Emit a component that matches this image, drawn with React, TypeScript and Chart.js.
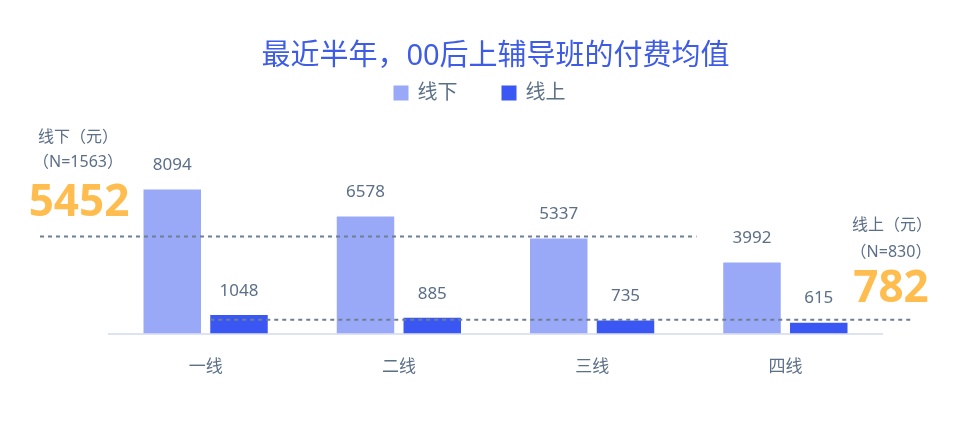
import { useEffect, useRef } from 'react';
import Chart from 'chart.js/auto';

// 城市线级 & 两组均值数据
const categories = ['一线', '二线', '三线', '四线'];
const seriesNames = ['线下', '线上'];
const offlineValues = [8094, 6578, 5337, 3992];
const onlineValues = [1048, 885, 735, 615];
const offlineAvg = 5452;
const offlineN = 1563;
const onlineAvg = 782;
const onlineN = 830;

const TEXT = '#5b6f88';
const LIGHT = '#9aa9f7';
const DARK = '#3a57f3';
const ORANGE = '#ffbd4f';
const DASH = '#6c7f95';
const FONT = '"Noto Sans", "Noto Sans CJK SC", sans-serif';

export default function App() {
  const canvasRef = useRef<HTMLCanvasElement>(null);
  const chartRef = useRef<Chart | null>(null);

  useEffect(() => {
    const ctx = canvasRef.current?.getContext('2d');
    if (!ctx) return;

    // legend drawn by hand so spacing matches the design
    const legendPlugin = {
      id: 'customLegend',
      afterDraw(chart: any) {
        const c = chart.ctx;
        c.save();
        c.font = `20px ${FONT}`;
        c.textBaseline = 'middle';
        const colors = [LIGHT, DARK];
        const box = 15, gap = 9, spacing = 44;
        const widths = seriesNames.map((s) => box + gap + c.measureText(s).width);
        const total = widths[0] + widths[1] + spacing;
        let x = chart.width / 2 - total / 2;
        const y = 93;
        seriesNames.forEach((s, i) => {
          c.fillStyle = colors[i];
          c.fillRect(x, y - box / 2, box, box);
          c.fillStyle = TEXT;
          c.textAlign = 'left';
          c.fillText(s, x + box + gap, y);
          x += widths[i] + spacing;
        });
        c.restore();
      },
    };

    // value labels above bars
    const valueLabels = {
      id: 'valueLabels',
      afterDatasetsDraw(chart: any) {
        const c = chart.ctx;
        c.save();
        c.font = `17px ${FONT}`;
        c.fillStyle = TEXT;
        c.textAlign = 'center';
        c.textBaseline = 'middle';
        chart.data.datasets.forEach((ds: any, di: number) => {
          chart.getDatasetMeta(di).data.forEach((el: any, i: number) => {
            c.fillText(String(ds.data[i]), el.x, el.y - 24);
          });
        });
        c.restore();
      },
    };

    // average lines + side notes
    const avgPlugin = {
      id: 'avgLines',
      afterDatasetsDraw(chart: any) {
        const c = chart.ctx;
        const xs = chart.scales.x;
        const ys = chart.scales.y;
        const area = chart.chartArea;
        const catW = xs.getPixelForValue(1) - xs.getPixelForValue(0);
        const onlineBar = chart.getDatasetMeta(1).data[0];

        c.save();
        c.strokeStyle = DASH;
        c.lineWidth = 2;
        c.setLineDash([4, 4]);
        const yOff = ys.getPixelForValue(offlineAvg);
        c.beginPath();
        c.moveTo(40, yOff);
        c.lineTo(xs.getPixelForValue(2) + catW * 0.54, yOff);
        c.stroke();
        const yOn = ys.getPixelForValue(onlineAvg);
        c.beginPath();
        c.moveTo(onlineBar.x - onlineBar.width / 2, yOn);
        c.lineTo(area.right + 30, yOn);
        c.stroke();
        c.setLineDash([]);

        c.textBaseline = 'middle';
        c.textAlign = 'center';
        // left block (线下)
        c.fillStyle = TEXT;
        c.font = `16px ${FONT}`;
        c.fillText('线下（元）', 78, area.top + 9);
        c.fillText(`（N=${offlineN}）`, 78, area.top + 34);
        c.fillStyle = ORANGE;
        c.font = `bold 44px ${FONT}`;
        c.fillText(String(offlineAvg), 79, area.top + 75);

        // right block (线上)
        c.fillStyle = TEXT;
        c.font = `16px ${FONT}`;
        c.fillText('线上（元）', area.right + 10, area.top + 97);
        c.fillText(`（N=${onlineN}）`, area.right + 9, area.top + 124);
        c.fillStyle = ORANGE;
        c.font = `bold 44px ${FONT}`;
        c.fillText(String(onlineAvg), area.right + 9, area.top + 161);
        c.restore();
      },
    };

    chartRef.current = new Chart(ctx, {
      type: 'bar',
      data: {
        labels: categories,
        datasets: [
          { label: seriesNames[0], data: offlineValues, backgroundColor: LIGHT },
          { label: seriesNames[1], data: onlineValues, backgroundColor: DARK },
        ],
      },
      options: {
        responsive: true,
        maintainAspectRatio: false,
        animation: false,
        layout: { padding: { left: 109, right: 77, top: 0, bottom: 31 } },
        datasets: { bar: { categoryPercentage: 0.691, barPercentage: 0.861 } },
        plugins: {
          legend: { display: false },
          tooltip: { enabled: false },
          title: {
            display: true,
            text: '最近半年，00后上辅导班的付费均值',
            color: '#3e5ce6',
            font: { size: 29, family: FONT, weight: 'normal', lineHeight: 1.2 },
            padding: { top: 39, bottom: 55 },
          },
        },
        scales: {
          x: {
            grid: { display: false, drawTicks: false },
            border: { display: true, color: '#dde3f0', width: 2 },
            ticks: { color: TEXT, font: { size: 17, family: FONT }, padding: 23 },
          },
          y: { display: false, min: 0, max: 11500 },
        },
      },
      plugins: [legendPlugin, valueLabels, avgPlugin],
    });

    return () => {
      chartRef.current?.destroy();
      chartRef.current = null;
    };
  }, []);

  return (
    <div style={{ position: 'absolute', left: 0, top: 0, width: 959, height: 431, background: '#fff' }}>
      <canvas ref={canvasRef}></canvas>
    </div>
  );
}
